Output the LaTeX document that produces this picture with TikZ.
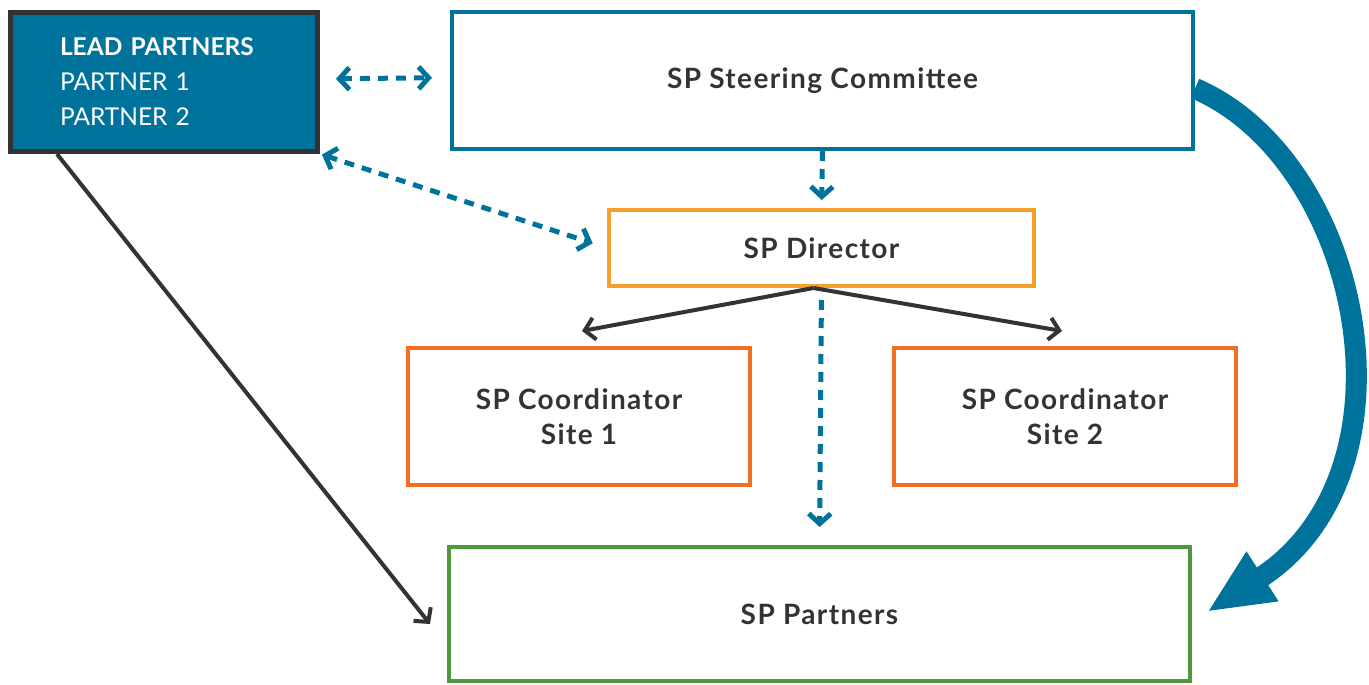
\documentclass[tikz,border=0pt]{standalone}
\usepackage{fontspec}
\setmainfont{Lato}
\newfontfamily\labelfont[LetterSpace=5]{Lato}
\usetikzlibrary{arrows.meta}
\definecolor{spblue}{HTML}{00739C}
\definecolor{spdark}{HTML}{333333}
\definecolor{spgold}{HTML}{F5A12B}
\definecolor{sporange}{HTML}{F26F21}
\definecolor{spgreen}{HTML}{4C9A3B}
\tikzset{
  box/.style={draw, rectangle, line width=4pt, fill=white, text=spdark,
    font=\labelfont\fontsize{28}{35}\selectfont\bfseries, align=center, inner sep=0pt},
  dasharrow/.style={draw=spblue, line width=5pt, dash pattern=on 10pt off 8pt,
    {Straight Barb[length=10pt,width=22pt,sharp]}-{Straight Barb[length=10pt,width=22pt,sharp]}},
  dashdown/.style={draw=spblue, line width=5pt, dash pattern=on 10pt off 8pt,
    -{Straight Barb[length=10pt,width=22pt,sharp]}},
  solidarrow/.style={draw=spdark, line width=4pt,
    -{Straight Barb[length=10pt,width=22pt,sharp]}},
}
\begin{document}
\begin{tikzpicture}[x=1pt,y=-1pt]
\useasboundingbox (0,0) rectangle (1369,685);

% boxes
\node[box, draw=spdark, fill=spblue, line width=5pt, minimum width=307pt, minimum height=139pt,
      text=white, text width=208pt, align=left, font=\fontsize{24.5}{35}\selectfont]
  (lead) at (164,82) {\textbf{LEAD PARTNERS}\\PARTNER 1\\PARTNER 2};
\node[box, draw=spblue, minimum width=741pt, minimum height=137pt] (steer) at (822.5,80.5) {SP Steering Committee};
\node[box, draw=spgold, minimum width=425pt, minimum height=76pt] (dir) at (821.5,248) {SP Director};
\node[box, draw=sporange, minimum width=342pt, minimum height=137pt] (c1) at (579,416.5) {SP Coordinator\\Site 1};
\node[box, draw=sporange, minimum width=342pt, minimum height=137pt] (c2) at (1065,416.5) {SP Coordinator\\Site 2};
\node[box, draw=spgreen, minimum width=741pt, minimum height=134pt] (part) at (819.5,614) {SP Partners};

% blue dashed links
\draw[dasharrow, shorten <=16pt, shorten >=18pt] ([yshift=3pt]lead.east) -- ([yshift=3pt]steer.west);
\draw[dasharrow, shorten <=2pt, shorten >=15pt] (lead.south east) -- (dir.west);
\draw[dashdown, shorten >=8pt] (steer.south) -- (dir.north);
\draw[dashdown, shorten <=12pt, shorten >=18pt] (dir.south) -- (part.north);

% reporting lines
\draw[solidarrow] ([xshift=-8pt]dir.south) -- ([xshift=3pt,yshift=15pt]c1.north);
\draw[solidarrow] ([xshift=-8pt]dir.south) -- ([xshift=-3pt,yshift=15pt]c2.north);
\coordinate (ptip) at (430,624);
\draw[solidarrow] ([xshift=49pt]lead.south west) -- (ptip);

% steering committee to partners
\draw[spblue, line width=21pt, -{Triangle[length=66pt,width=54pt]}]
  ([yshift=-8pt]steer.east) .. controls (1362,160) and (1425,472) .. (1207,612);
\end{tikzpicture}
\end{document}
